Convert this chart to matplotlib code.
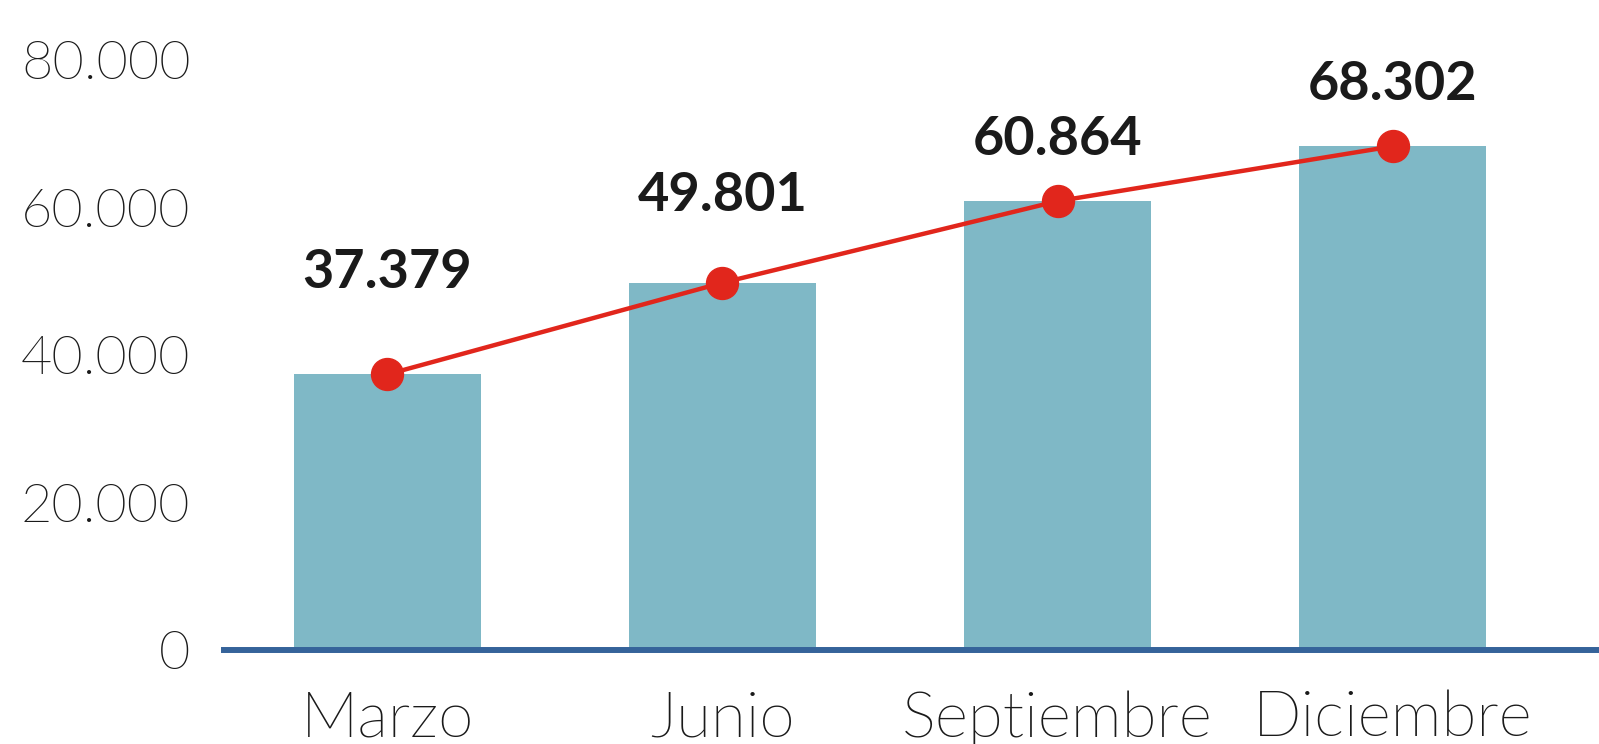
import numpy as np
import matplotlib.pyplot as plt
from matplotlib import font_manager

# datos
meses = ['Marzo', 'Junio', 'Septiembre', 'Diciembre']
valores = [37379, 49801, 60864, 68302]
ticks_y = [0, 20000, 40000, 60000, 80000]
ticks_y_txt = ['0', '20.000', '40.000', '60.000', '80.000']

# desplazamiento vertical de cada etiqueta (pt)
desp = [62, 52, 33, 33]

# buscar Lato Light (no Hairline/Thin)
ligera = None
for f in font_manager.fontManager.ttflist:
    nombre = f.fname.lower()
    if f.name == 'Lato' and 'light' in nombre and 'italic' not in nombre:
        ligera = f.fname
        break

def fp(size):
    if ligera:
        return font_manager.FontProperties(fname=ligera, size=size)
    return font_manager.FontProperties(family='Lato', size=size)

fig = plt.figure(figsize=(15.99, 7.44), dpi=100)
ax = fig.add_axes([0.140, 0.1263, 0.86, 0.793])

x = np.arange(len(meses))
ax.bar(x, valores, width=0.558, color='#7FB8C6', zorder=1)
ax.plot(x, valores, color='#E1261C', lw=3.2, marker='o', markersize=23,
        zorder=3, clip_on=False)

for xi, v, d in zip(x, valores, desp):
    ax.annotate(f'{v:,}'.replace(',', '.'), (xi, v), xytext=(0, d),
                textcoords='offset points', ha='center', va='baseline',
                fontsize=39, fontweight='bold', family='Lato', color='#1a1a1a')

ax.set_xlim(-0.488, 3.616)
ax.set_ylim(0, 80000)
ax.set_xticks(x)
ax.set_xticklabels(meses, fontproperties=fp(46), color='#1a1a1a')
ax.set_yticks(ticks_y)
ax.set_yticklabels(ticks_y_txt, fontproperties=fp(39), color='#1a1a1a')
ax.tick_params(axis='x', length=0, pad=29)
ax.tick_params(axis='y', length=0, pad=24)

for s in ['top', 'right', 'left']:
    ax.spines[s].set_visible(False)
ax.spines['bottom'].set_color('#35639A')
ax.spines['bottom'].set_linewidth(4.3)
ax.spines['bottom'].set_zorder(2)

fig.savefig('out.png', dpi=100)
